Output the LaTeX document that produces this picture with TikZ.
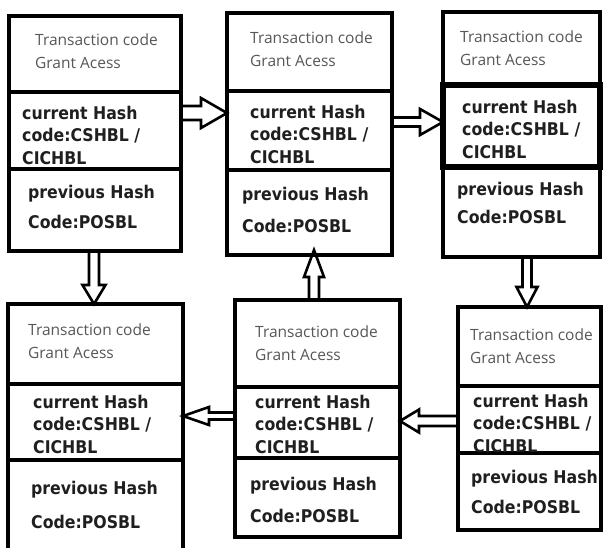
\documentclass[tikz,border=0pt]{standalone}
\usepackage{fontspec}
\setmainfont{Open Sans}
\newfontfamily\hashfont[FakeStretch=0.9]{DejaVu Sans}
\usetikzlibrary{calc,fit}
\pgfdeclarelayer{background}
\pgfsetlayers{background,main}

\tikzset{
  sect/.style={draw, rectangle, line width=3.5pt, inner sep=0pt, outer sep=0pt},
  thicksect/.style={line width=5.5pt},
  lightlbl/.style={anchor=base west, inner sep=0pt, text=black!66,
    font=\fontsize{15.5}{18}\selectfont},
  boldlbl/.style={anchor=base west, inner sep=0pt, text=black!88,
    font=\hashfont\bfseries\fontsize{17.5}{20}\selectfont},
  % hollow block arrow: #1 half shaft width, #2 half head width, #3 head length
  blockarrow/.style n args={3}{draw, fill=white, line width=2.6pt, line join=miter,
    to path={
      ($(\tikztostart)!#1pt!90:(\tikztotarget)$)
      -- ($(\tikztotarget)!#3pt!(\tikztostart)!#1pt!90:(\tikztotarget)$)
      -- ($(\tikztotarget)!#3pt!(\tikztostart)!#2pt!90:(\tikztotarget)$)
      -- (\tikztotarget)
      -- ($(\tikztotarget)!#3pt!(\tikztostart)!#2pt!-90:(\tikztotarget)$)
      -- ($(\tikztotarget)!#3pt!(\tikztostart)!#1pt!-90:(\tikztotarget)$)
      -- ($(\tikztostart)!#1pt!-90:(\tikztotarget)$)
      -- cycle}}
}

% one ledger block: id, left, right, top, first divider, second divider, bottom, middle style
\newcommand\ledgerbox[8]{%
  \node[sect, fit={(#2,#4) (#3,#5)}] (#1t) {};
  \node[sect, fit={(#2,#5) (#3,#6)}, #8] (#1m) {};
  \node[sect, fit={(#2,#6) (#3,#7)}] (#1p) {};
}
% its texts: id, light text origin, bold text origin, previous-hash origin, line gap of the last
\newcommand\ledgertext[5]{%
  \node[lightlbl] (#1a) at (#2) {Transaction code};
  \node[lightlbl] (#1b) at ($(#2)+(0,23.5)$) {Grant Acess};
  \node[boldlbl] (#1c) at (#3) {current Hash};
  \node[boldlbl] (#1d) at ($(#3)+(0,22.5)$) {code:CSHBL /};
  \node[boldlbl] (#1e) at ($(#3)+(0,45)$) {CICHBL};
  \node[boldlbl] (#1f) at (#4) {previous Hash};
  \node[boldlbl] (#1g) at ($(#4)+(0,#5)$) {Code:POSBL};
}

\begin{document}
\begin{tikzpicture}[x=1pt, y=-1pt]
  \useasboundingbox (0,0) rectangle (604,547);
  \begin{pgfonlayer}{background}
    \fill[white] (0,0) rectangle (604,547);
  \end{pgfonlayer}

  % upper row
  \ledgerbox{b1}{9}{181}{16}{92}{169}{251}{}
  \ledgerbox{b2}{227}{392}{13}{91}{170}{255}{}
  \ledgerbox{b3}{443}{600}{12}{85}{167}{257}{thicksect}
  % lower row
  \ledgerbox{b4}{8}{183}{304}{384}{460}{556}{}
  \ledgerbox{b5}{235}{400}{300}{387}{458}{537}{}
  \ledgerbox{b6}{458}{601}{307}{386}{453}{530}{}

  \ledgertext{b1}{35,45}{22,119}{28,198}{30}
  \ledgertext{b2}{250,43}{250,118}{242,200}{32}
  \ledgertext{b3}{460,42}{462,113}{457,195}{28}
  \ledgertext{b4}{28,335}{33,408}{31,494}{34}
  \ledgertext{b5}{255,337}{255,408}{250,490}{32}
  \ledgertext{b6}{470,340}{473,407}{471,483}{30}

  \begin{pgfonlayer}{background}
    \draw[blockarrow={7}{15}{26}] (b1m.east |- 0,113) to (b2m.west |- 0,113);
    \draw[blockarrow={4.5}{13}{23}] (b2m.east |- 0,122) to (b3m.west |- 0,122);
    \draw[blockarrow={4.5}{10.5}{20}] (b3p.south -| 527,0) to (b6t.north -| 527,0);
    \draw[blockarrow={5}{11.5}{19}] (b6m.west |- 0,421) to (b5m.east |- 0,421);
    \draw[blockarrow={3.5}{9}{26}] (b5m.west |- 0,416) to (b4m.east |- 0,416);
    \draw[blockarrow={5}{10}{27}] (b5t.north -| 314,0) to ([yshift=5pt]b2p.south -| 314,0);
    \draw[blockarrow={5}{11.5}{19}] (b1p.south -| 94,0) to (b4t.north -| 94,0);
  \end{pgfonlayer}
\end{tikzpicture}
\end{document}
